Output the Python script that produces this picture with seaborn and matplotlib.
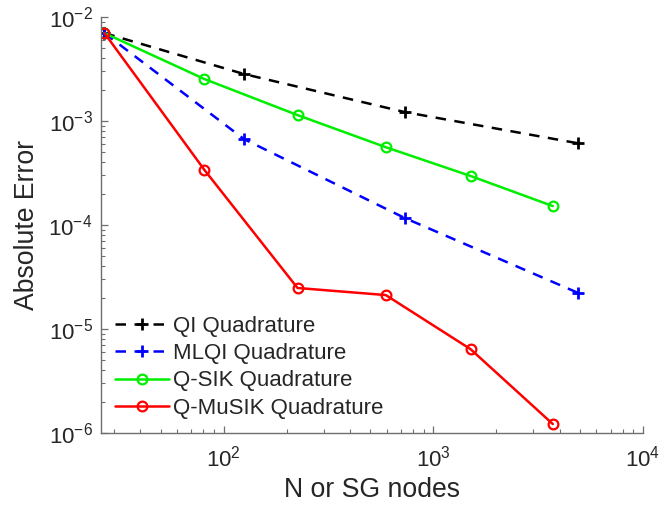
import matplotlib
matplotlib.use("Agg")
import matplotlib.pyplot as plt
import seaborn as sns
import pandas as pd
from matplotlib.ticker import LogLocator, NullFormatter

# Node counts
qi_nodes = [27, 125, 729, 4913]
sik_nodes = [27, 81, 225, 593, 1505, 3713]

# Absolute errors
qi_err = [7.0e-3, 2.83e-3, 1.22e-3, 6.1e-4]
mlqi_err = [7.0e-3, 6.7e-4, 1.17e-4, 2.22e-5]
qsik_err = [7.0e-3, 2.53e-3, 1.14e-3, 5.6e-4, 2.96e-4, 1.52e-4]
qmusik_err = [7.0e-3, 3.38e-4, 2.48e-5, 2.12e-5, 6.4e-6, 1.22e-6]

labels = ["QI Quadrature", "MLQI Quadrature", "Q-SIK Quadrature", "Q-MuSIK Quadrature"]

sns.set_theme(style="white")
plt.rcParams["font.family"] = ["Liberation Sans", "DejaVu Sans"]
plt.rcParams["mathtext.default"] = "regular"
plt.rcParams["axes.unicode_minus"] = False

fig = plt.figure(figsize=(6.6, 5.17), dpi=100)
ax = fig.add_axes([101 / 660, 84 / 517, 542 / 660, 416 / 517])

dash = (0, (4.2, 3.4))
series = [
    (qi_nodes, qi_err, labels[0], "#000000", dash, "+"),
    (qi_nodes, mlqi_err, labels[1], "#0000ff", dash, "+"),
    (sik_nodes, qsik_err, labels[2], "#00ee00", "-", "o"),
    (sik_nodes, qmusik_err, labels[3], "#ff0000", "-", "o"),
]

for xs, ys, lab, col, ls, mk in series:
    df = pd.DataFrame({"N": xs, "err": ys})
    line_kw = dict(color=col, linewidth=1.8, linestyle=ls, marker=mk,
                   markeredgecolor=col, markeredgewidth=2.0 if mk == "+" else 1.6,
                   markersize=8 if mk == "+" else 7)
    if mk == "o":
        line_kw["markerfacecolor"] = "none"
    sns.lineplot(data=df, x="N", y="err", ax=ax, label=lab, sort=False,
                 estimator=None, **line_kw)

ax.set_xscale("log")
ax.set_yscale("log")
ax.set_xlim(26, 1e4)
ax.set_ylim(1e-6, 1e-2)

ax.xaxis.set_major_locator(LogLocator(base=10, subs=(1.0,)))
ax.yaxis.set_major_locator(LogLocator(base=10, subs=(1.0,)))
ax.xaxis.set_minor_locator(LogLocator(base=10, subs=range(2, 10)))
ax.yaxis.set_minor_locator(LogLocator(base=10, subs=range(2, 10)))
ax.xaxis.set_minor_formatter(NullFormatter())
ax.yaxis.set_minor_formatter(NullFormatter())

for side in ("top", "right"):
    ax.spines[side].set_visible(False)
for side in ("left", "bottom"):
    ax.spines[side].set_color("#6e6e6e")
    ax.spines[side].set_linewidth(1.0)

ax.tick_params(which="both", bottom=True, left=True, top=False, right=False)
ax.tick_params(which="major", direction="in", length=5, width=0.9,
               colors="#6e6e6e", labelcolor="#262626", labelsize=16, pad=6)
ax.tick_params(which="minor", direction="in", length=3, width=0.8,
               colors="#6e6e6e")
ax.tick_params(axis="x", which="major", pad=9)

ax.set_xlabel("N or SG nodes", fontsize=19.2, color="#262626", labelpad=4)
ax.set_ylabel("Absolute Error", fontsize=19.2, color="#262626", labelpad=6)

leg = ax.legend(loc="lower left", frameon=False, fontsize=16,
                bbox_to_anchor=(0.0, 0.0), borderaxespad=0.15,
                handlelength=2.4, handletextpad=0.2, labelspacing=0.28,
                borderpad=0.5, numpoints=1)
for t in leg.get_texts():
    t.set_color("#262626")

fig.savefig("out.png", dpi=100)
